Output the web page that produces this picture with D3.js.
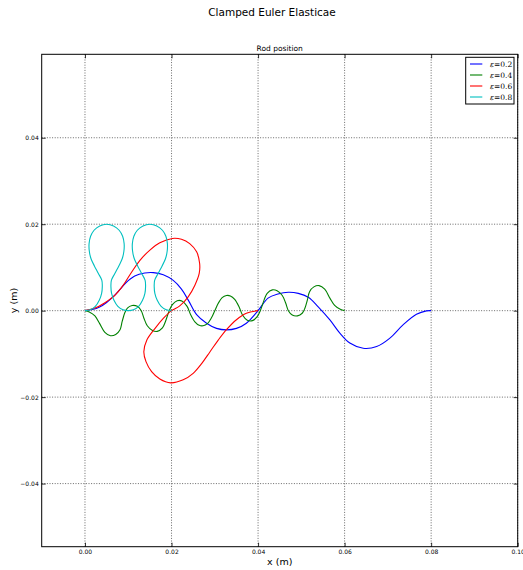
<!DOCTYPE html>
<html>
<head>
<meta charset="utf-8">
<script src="https://cdn.jsdelivr.net/npm/d3@7"></script>
<style>
  body { margin: 0; background: #fff; }
  svg { display: block; font-family: "DejaVu Sans", sans-serif; }
</style>
</head>
<body>
<svg id="chart" width="523" height="570"></svg>
<script>
// Rod positions, [x (m), y (m)]
var rodEps02 = [[0,0],[0.0017,0.00025],[0.0034,0.00085],[0.0050,0.0019],[0.0066,0.0033],[0.0080,0.0048],[0.0094,0.0064],
  [0.0115,0.0080],[0.0138,0.0087],[0.0158,0.0088],[0.0181,0.0083],[0.0204,0.0070],[0.0223,0.0050],[0.0240,0.0022],
  [0.0258,-0.0009],[0.0281,-0.0029],[0.0304,-0.0041],[0.0327,-0.00445],[0.0350,-0.0041],[0.0373,-0.0029],[0.0400,0],
  [0.0423,0.0029],[0.0446,0.00385],[0.0470,0.00425],[0.0493,0.0040],[0.0516,0.0031],[0.0539,0.0009],[0.0566,-0.00215],
  [0.0589,-0.0052],[0.0612,-0.0075],[0.0643,-0.0087],[0.0674,-0.0083],[0.0704,-0.0064],[0.0735,-0.0033],
  [0.0766,-0.00085],[0.0789,-0.00005],[0.0800,0]];

var rodEps04 = [[0,0],[0.0010,-0.0003],[0.0023,-0.0012],[0.0034,-0.0030],[0.0046,-0.0050],[0.0059,-0.0058],[0.0071,-0.0055],
  [0.0081,-0.0044],[0.0086,-0.0025],[0.0092,-0.0005],[0.0098,0.0006],[0.0109,0.0012],[0.0121,0.0010],[0.0130,0],
  [0.0136,-0.0017],[0.0144,-0.0035],[0.0156,-0.0046],[0.0167,-0.0048],[0.0179,-0.0040],[0.0186,-0.0025],[0.0194,-0.0002],
  [0.0202,0.0014],[0.0213,0.0023],[0.0225,0.0022],[0.0236,0.0010],[0.0244,-0.0009],[0.0254,-0.0026],[0.0264,-0.0034],
  [0.0273,-0.0035],[0.0283,-0.0030],[0.0292,-0.0017],[0.0300,0],[0.0308,0.0017],[0.0317,0.0030],[0.0327,0.0035],
  [0.0336,0.0034],[0.0346,0.0026],[0.0356,0.0009],[0.0364,-0.0010],[0.0375,-0.0022],[0.0387,-0.0023],[0.0398,-0.0014],
  [0.0406,0.0002],[0.0414,0.0025],[0.0421,0.0040],[0.0433,0.0048],[0.0444,0.0046],[0.0456,0.0035],[0.0464,0.0017],
  [0.0470,0],[0.0479,-0.0010],[0.0491,-0.0012],[0.0502,-0.0006],[0.0508,0.0005],[0.0514,0.0025],[0.0519,0.0044],
  [0.0529,0.0055],[0.0541,0.0058],[0.0554,0.0050],[0.0566,0.0029],[0.0577,0.0012],[0.0590,0.0003],[0.0600,0]];

var rodEps06 = [[0,0],[0.0023,0.0006],[0.0046,0.00185],[0.0069,0.00355],[0.00885,0.0059],[0.0108,0.00895],[0.0127,0.01165],
  [0.0150,0.0140],[0.0173,0.0157],[0.0202,0.0167],[0.0223,0.0165],[0.0242,0.0155],[0.0258,0.0136],[0.0265,0.0109],
  [0.0264,0.0086],[0.0254,0.0059],[0.02385,0.0032],[0.0219,0.0011],[0.0200,0],[0.0181,-0.0018],[0.0162,-0.0041],
  [0.0143,-0.0068],[0.0136,-0.0095],[0.0141,-0.0118],[0.0154,-0.0141],[0.0173,-0.0158],[0.0198,-0.0167],[0.0227,-0.0160],
  [0.0250,-0.0145],[0.0270,-0.0122],[0.0289,-0.0095],[0.0308,-0.0068],[0.0327,-0.0044],[0.0350,-0.0021],
  [0.0373,-0.0006],[0.0400,0]];

var rodEps08 = [[0,0],[0.0012,0.0002],[0.0024,0.0010],[0.0033,0.0024],[0.00385,0.0040],[0.0040,0.0055],[0.0039,0.0070],
  [0.0031,0.0086],[0.0022,0.0103],[0.0014,0.0120],[0.0010,0.0138],[0.00095,0.0155],[0.0013,0.0172],[0.0021,0.0186],
  [0.0034,0.0196],[0.0050,0.0200],[0.0066,0.0196],[0.0079,0.0186],[0.0087,0.0172],[0.00905,0.0155],[0.0090,0.0138],
  [0.0086,0.0120],[0.0078,0.0103],[0.0069,0.0086],[0.0061,0.0070],[0.0060,0.0055],[0.00615,0.0040],[0.0067,0.0024],
  [0.0076,0.0010],[0.0088,0.0002],[0.0100,0],
  [0.0112,0.0002],[0.0124,0.0010],[0.0133,0.0024],[0.01385,0.0040],[0.0140,0.0055],[0.0139,0.0070],[0.0131,0.0086],
  [0.0122,0.0103],[0.0114,0.0120],[0.0110,0.0138],[0.01095,0.0155],[0.0113,0.0172],[0.0121,0.0186],[0.0134,0.0196],
  [0.0150,0.0200],[0.0166,0.0196],[0.0179,0.0186],[0.0187,0.0172],[0.01905,0.0155],[0.0190,0.0138],[0.0186,0.0120],
  [0.0178,0.0103],[0.0169,0.0086],[0.0161,0.0070],[0.0160,0.0055],[0.01615,0.0040],[0.0167,0.0024],[0.0176,0.0010],
  [0.0188,0.0002],[0.0200,0]];

var epsLabels = ["0.2", "0.4", "0.6", "0.8"];
var xTicks = [0, 0.02, 0.04, 0.06, 0.08, 0.10];
var yTicks = [-0.04, -0.02, 0, 0.02, 0.04];

var series = [
  { eps: epsLabels[0], data: rodEps02, color: "#0000ff" },
  { eps: epsLabels[1], data: rodEps04, color: "#008000" },
  { eps: epsLabels[2], data: rodEps06, color: "#ff0000" },
  { eps: epsLabels[3], data: rodEps08, color: "#00bfbf" }
];

var svg = d3.select("#chart");
// plot area edges in pixels
var plotL = 41.7, plotR = 517.7, plotT = 54.3, plotB = 546.7;

var x = d3.scaleLinear().domain([-0.01, 0.10]).range([plotL, plotR]);
var y = d3.scaleLinear().domain([-0.0546, 0.0593]).range([plotB, plotT]);
var fmt = d3.format(".2f");

// grid
var grid = svg.append("g").attr("class", "grid");
grid.selectAll("line.gx").data(xTicks).enter().append("line").attr("class", "gx")
  .attr("x1", d => x(d)).attr("x2", d => x(d))
  .attr("y1", plotT).attr("y2", plotB);
grid.selectAll("line.gy").data(yTicks).enter().append("line").attr("class", "gy")
  .attr("y1", d => y(d)).attr("y2", d => y(d))
  .attr("x1", plotL).attr("x2", plotR);
grid.selectAll("line")
  .attr("stroke", "#444").attr("stroke-width", 0.8).attr("stroke-dasharray", "1,1.6");

// curves
var line = d3.line()
  .x(d => x(d[0]))
  .y(d => y(d[1]))
  .curve(d3.curveCatmullRom);

svg.append("g").selectAll("path")
  .data(series).enter().append("path")
  .attr("d", d => line(d.data))
  .attr("fill", "none")
  .attr("stroke", d => d.color)
  .attr("stroke-width", 1.1);

// axes, ticks pointing inward on all four sides
function styleAxis(g) {
  g.select(".domain").remove();
  g.selectAll("line").attr("stroke", "#000").attr("stroke-width", 0.8);
  g.selectAll("text").attr("font-family", "DejaVu Sans").attr("font-size", "6px").attr("fill", "#000");
}
svg.append("g").attr("transform", "translate(0," + plotB + ")")
  .call(d3.axisBottom(x).tickValues(xTicks).tickFormat(fmt).tickSizeInner(-4).tickSizeOuter(0).tickPadding(3))
  .call(styleAxis);
svg.append("g").attr("transform", "translate(0," + plotT + ")")
  .call(d3.axisTop(x).tickValues(xTicks).tickFormat("").tickSizeInner(-4).tickSizeOuter(0))
  .call(styleAxis);
svg.append("g").attr("transform", "translate(" + plotL + ",0)")
  .call(d3.axisLeft(y).tickValues(yTicks).tickFormat(fmt).tickSizeInner(-4).tickSizeOuter(0).tickPadding(3))
  .call(styleAxis);
svg.append("g").attr("transform", "translate(" + plotR + ",0)")
  .call(d3.axisRight(y).tickValues(yTicks).tickFormat("").tickSizeInner(-4).tickSizeOuter(0))
  .call(styleAxis);

// frame
svg.append("rect")
  .attr("x", plotL).attr("y", plotT)
  .attr("width", plotR - plotL).attr("height", plotB - plotT)
  .attr("fill", "none").attr("stroke", "#000").attr("stroke-width", 1);

// titles and labels
svg.append("text").attr("x", 272).attr("y", 16).attr("text-anchor", "middle")
  .attr("font-size", "10.5px").text("Clamped Euler Elasticae");
svg.append("text").attr("x", (plotL + plotR) / 2).attr("y", 51).attr("text-anchor", "middle")
  .attr("font-size", "7.5px").text("Rod position");
svg.append("text").attr("x", (plotL + plotR) / 2).attr("y", 565).attr("text-anchor", "middle")
  .attr("font-size", "9.5px").text("x (m)");
svg.append("text").attr("transform", "translate(17," + (plotT + plotB) / 2 + ") rotate(-90)")
  .attr("text-anchor", "middle").attr("font-size", "9.5px").text("y (m)");

// legend
var legend = svg.append("g");
legend.append("rect")
  .attr("x", 465.7).attr("y", 57.3).attr("width", 48.3).attr("height", 46.7)
  .attr("fill", "#fff").attr("stroke", "#000").attr("stroke-width", 1);
var item = legend.selectAll("g.item").data(series).enter().append("g")
  .attr("transform", (d, i) => "translate(0," + (64 + i * 11) + ")");
item.append("line")
  .attr("x1", 470).attr("x2", 482.3)
  .attr("stroke", d => d.color).attr("stroke-width", 1.1);
var lt = item.append("text")
  .attr("x", 490).attr("y", 2.6)
  .attr("font-family", "DejaVu Serif").attr("font-size", "7.5px");
lt.append("tspan").attr("font-style", "italic").text("\u03b5");
lt.append("tspan").text(d => "=" + d.eps);
</script>
</body>
</html>
